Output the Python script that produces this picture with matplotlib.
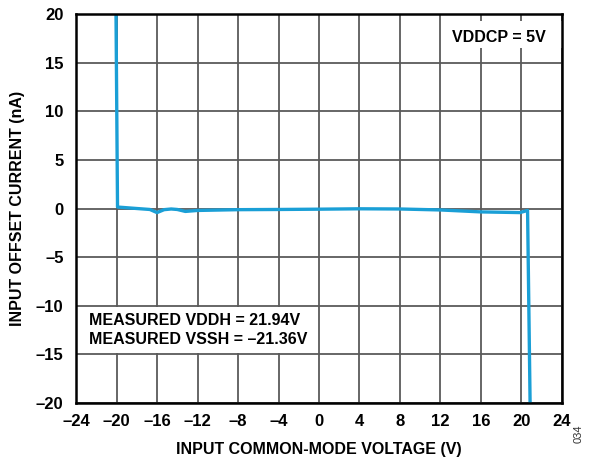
import matplotlib
matplotlib.use("Agg")
import matplotlib.pyplot as plt
from matplotlib.patches import Rectangle
from matplotlib.ticker import FuncFormatter

# Input offset current vs input common-mode voltage
vcm = [-20.05, -19.9, -18.0, -16.7, -16.0, -15.3, -14.6, -14.0, -13.2,
       -12.0, -8.0, -4.0, 0.0, 4.0, 8.0, 12.0, 16.0, 19.85, 20.6, 20.85]
ios = [20.0, 0.15, 0.0, -0.1, -0.42, -0.12, -0.05, -0.1, -0.3,
       -0.2, -0.12, -0.1, -0.07, -0.03, -0.05, -0.15, -0.35, -0.42, -0.2, -20.0]

x_ticks = list(range(-24, 25, 4))
y_ticks = list(range(-20, 21, 5))

fig = plt.figure(figsize=(5.92, 4.59), dpi=100)
ax = fig.add_axes([0.1284, 0.122, 0.8209, 0.8475])

font = "Liberation Sans"
ax.plot(vcm, ios, color="#1a9fd6", linewidth=2.4, solid_joinstyle="round", zorder=3)

ax.set_xlim(-24, 24)
ax.set_ylim(-20, 20)
ax.set_xticks(x_ticks)
ax.set_yticks(y_ticks)

dash = FuncFormatter(lambda v, p: ("%d" % v).replace("-", "\u2013"))
ax.xaxis.set_major_formatter(dash)
ax.yaxis.set_major_formatter(dash)

ax.grid(True, color="#5a5a5a", linewidth=1.3)
ax.tick_params(axis="x", length=0, pad=8)
ax.tick_params(axis="y", length=0, pad=9)
for lbl in ax.get_xticklabels() + ax.get_yticklabels():
    lbl.set_fontfamily(font)
    lbl.set_fontweight("bold")
    lbl.set_fontsize(12)
for s in ax.spines.values():
    s.set_linewidth(1.8)
    s.set_color("black")
    s.set_zorder(4)

ax.set_xlabel("INPUT COMMON-MODE VOLTAGE (V)", fontfamily=font, fontweight="bold",
              fontsize=11.5, labelpad=9)
ax.set_ylabel("INPUT OFFSET CURRENT (nA)", fontfamily=font, fontweight="bold",
              fontsize=11.5, labelpad=8)

# white panels behind the annotations
ax.add_patch(Rectangle((12.08, 16.5), 11.92, 2.78, facecolor="white",
                       edgecolor="none", zorder=2))
ax.add_patch(Rectangle((-24, -14.88), 23.9, 4.76, facecolor="white",
                       edgecolor="none", zorder=2))

ax.text(22.4, 17.55, "VDDCP = 5V", ha="right", va="center", fontfamily=font,
        fontweight="bold", fontsize=11.5, zorder=5)
ax.text(-22.69, -11.54, "MEASURED VDDH = 21.94V", ha="left", va="center",
        fontfamily=font, fontweight="bold", fontsize=11.5, zorder=5)
ax.text(-22.69, -13.52, "MEASURED VSSH = \u201321.36V", ha="left", va="center",
        fontfamily=font, fontweight="bold", fontsize=11.5, zorder=5)

fig.text(0.978, 0.055, "034", rotation=90, ha="center", va="center",
         fontfamily=font, fontsize=8, color="#333333")

fig.savefig("out.png", dpi=100)
